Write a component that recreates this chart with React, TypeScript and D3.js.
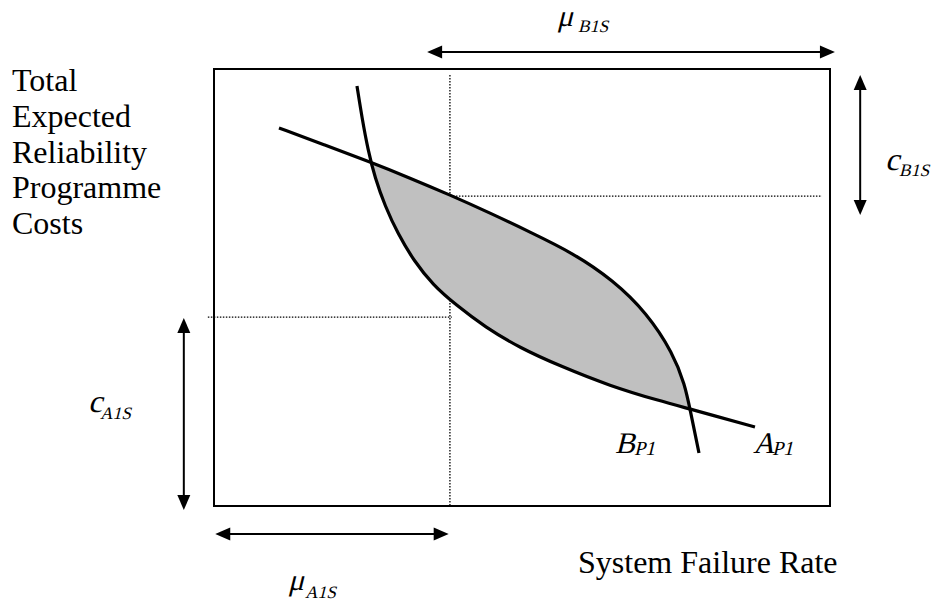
import React, { useEffect, useRef } from 'react';
import * as d3 from 'd3';

// curve points in chart units (0..100 on both axes, failure rate → cost)
const curveA: [number, number][] = [
  [23.21, 96.11], [24.03, 88.79], [25.0, 81.46], [26.14, 75.06], [27.76, 68.65],
  [29.87, 62.24], [32.47, 56.06], [35.55, 50.57], [39.29, 45.99], [43.99, 40.96],
  [49.68, 36.16], [56.17, 32.04], [64.29, 27.46], [72.4, 24.03], [77.27, 22.2],
  [87.82, 18.08],
];
const curveB: [number, number][] = [
  [10.55, 86.5], [18.02, 82.61], [25.32, 78.72], [31.82, 75.06], [38.31, 71.17],
  [44.81, 67.05], [51.3, 62.7], [58.28, 57.89], [64.77, 51.72], [70.29, 44.16],
  [74.51, 35.01], [76.46, 27.69], [77.27, 22.2], [78.73, 12.13],
];

// dotted guide lines: [x1, y1, x2, y2]
const guides: [number, number, number, number][] = [
  [38.3, 98.6, 38.3, 0],
  [38.3, 70.9, 98.7, 70.9],
  [-1.0, 43.2, 38.6, 43.2],
];

// double headed range arrows: [x1, y1, x2, y2]
const arrows: [number, number, number, number][] = [
  [34.6, 103.9, 100.8, 103.9],
  [104.9, 98.6, 104.9, 66.6],
  [-4.9, 43.0, -4.9, -0.9],
  [0.2, -6.4, 38.1, -6.4],
];

const yTitle = ['Total', 'Expected', 'Reliability', 'Programme', 'Costs'];
const xTitle = 'System Failure Rate';

// symbol labels: main, subscript, x, y (baseline), sub x, sub y
const symbols: [string, string, number, number, number, number][] = [
  ['\u03bc', 'B1S', 557, 26, 578, 32],
  ['c', 'B1S', 885, 170, 899, 176],
  ['c', 'A1S', 88, 412, 100, 419],
  ['\u03bc', 'A1S', 288, 590, 305, 598],
];
const curveLabels: [string, string, number, number][] = [
  ['B', 'P1', 615, 453],
  ['A', 'P1', 753, 453],
];

const App = () => {
  const ref = useRef<SVGSVGElement>(null);

  useEffect(() => {
    const width = 934;
    const height = 607;
    const box = { left: 214, right: 830, top: 69, bottom: 506 };

    const svg = d3.select(ref.current);
    svg.selectAll('*').remove();
    svg.attr('width', width).attr('height', height);

    const x = d3.scaleLinear().domain([0, 100]).range([box.left, box.right]);
    const y = d3.scaleLinear().domain([0, 100]).range([box.bottom, box.top]);

    const font = "'Liberation Serif', 'Times New Roman', serif";

    // guides under everything
    svg.selectAll('line.guide')
      .data(guides)
      .enter()
      .append('line')
      .attr('class', 'guide')
      .attr('x1', d => x(d[0]))
      .attr('y1', d => y(d[1]))
      .attr('x2', d => x(d[2]))
      .attr('y2', d => y(d[3]))
      .attr('stroke', '#000')
      .attr('stroke-width', 1.3)
      .attr('stroke-dasharray', '1.5,1.5');

    const line = d3.line<[number, number]>()
      .x(d => x(d[0]))
      .y(d => y(d[1]))
      .curve(d3.curveBasis);

    // shaded lens: region under B clipped to region above A
    const aPath = line(curveA)!;
    const bPath = line(curveB)!;
    const aLast = curveA[curveA.length - 1];
    const aFirst = curveA[0];
    const bLast = curveB[curveB.length - 1];
    const bFirst = curveB[0];

    const defs = svg.append('defs');
    defs.append('clipPath')
      .attr('id', 'aboveA')
      .append('path')
      .attr('d', `${aPath}L${x(aLast[0])},${y(120)}L${x(aFirst[0])},${y(120)}Z`);

    svg.append('path')
      .attr('d', `${bPath}L${x(bLast[0])},${y(-20)}L${x(bFirst[0])},${y(-20)}Z`)
      .attr('fill', '#c0c0c0')
      .attr('clip-path', 'url(#aboveA)');

    // frame
    svg.append('rect')
      .attr('x', box.left)
      .attr('y', box.top)
      .attr('width', box.right - box.left)
      .attr('height', box.bottom - box.top)
      .attr('fill', 'none')
      .attr('stroke', '#000')
      .attr('stroke-width', 2);

    [aPath, bPath].forEach(p => {
      svg.append('path')
        .attr('d', p)
        .attr('fill', 'none')
        .attr('stroke', '#000')
        .attr('stroke-width', 3.2);
    });

    // arrows
    const headLen = 15;
    const headHalf = 6.5;
    arrows.forEach(a => {
      const x1 = x(a[0]), y1 = y(a[1]), x2 = x(a[2]), y2 = y(a[3]);
      const len = Math.hypot(x2 - x1, y2 - y1);
      const ux = (x2 - x1) / len, uy = (y2 - y1) / len;
      svg.append('line')
        .attr('x1', x1 + ux * headLen * 0.8)
        .attr('y1', y1 + uy * headLen * 0.8)
        .attr('x2', x2 - ux * headLen * 0.8)
        .attr('y2', y2 - uy * headLen * 0.8)
        .attr('stroke', '#000')
        .attr('stroke-width', 2);
      const head = (tx: number, ty: number, dx: number, dy: number) => {
        const bx = tx - dx * headLen, by = ty - dy * headLen;
        return `M${tx},${ty}L${bx - dy * headHalf},${by + dx * headHalf}L${bx + dy * headHalf},${by - dx * headHalf}Z`;
      };
      svg.append('path').attr('d', head(x2, y2, ux, uy)).attr('fill', '#000');
      svg.append('path').attr('d', head(x1, y1, -ux, -uy)).attr('fill', '#000');
    });

    // axis titles
    svg.selectAll('text.ytitle')
      .data(yTitle)
      .enter()
      .append('text')
      .attr('class', 'ytitle')
      .attr('x', 12)
      .attr('y', (_, i) => 91 + i * 35.8)
      .attr('font-family', font)
      .attr('font-size', 32)
      .text(d => d);

    svg.append('text')
      .attr('x', 578)
      .attr('y', 573)
      .attr('font-family', font)
      .attr('font-size', 32)
      .text(xTitle);

    // italic look: serif face slanted, so the glyphs stay Times-like
    const slanted = (tx: number, ty: number, size: number, s: string) =>
      svg.append('text')
        .attr('transform', `translate(${tx},${ty}) skewX(-14)`)
        .attr('font-family', font)
        .attr('font-size', size)
        .text(s);

    symbols.forEach(s => {
      slanted(s[2], s[3], s[0] === 'c' ? 32 : 30, s[0]);
      slanted(s[4], s[5], 17.5, s[1]);
    });

    curveLabels.forEach(c => {
      slanted(c[2], c[3], 30, c[0]);
      slanted(c[2] + 19, c[3] + 2, 20, c[1]);
    });
  }, []);

  return (
    <svg ref={ref} style={{ position: 'absolute', left: 0, top: 0, background: '#fff' }} />
  );
};

export default App;
